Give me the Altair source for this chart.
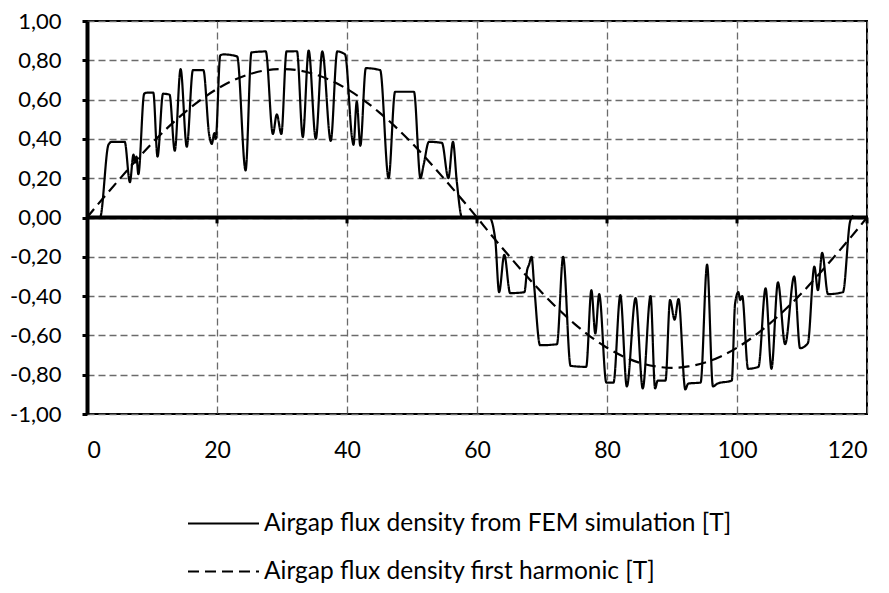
import altair as alt
import pandas as pd

S1 = "Airgap flux density from FEM simulation [T]"
S2 = "Airgap flux density first harmonic [T]"

fem_x = [0, 2.0, 3.3, 3.8, 5.8, 6.6, 7.15, 7.4, 7.6, 7.9, 8.8, 9.2, 10.2, 10.85, 11.7, 12.7,
         13.5, 14.4, 15.35, 16.3, 17.9, 18.8, 19.2, 19.6, 19.8, 20.5, 21.0, 23.1, 24.4, 25.3,
         27.5, 28.6, 29.2, 29.9, 30.7, 32.3, 33.2, 34.1, 35.2, 36.2, 37.5, 38.5, 39.7, 40.8,
         41.0, 41.5, 42.05, 42.9, 45.1, 46.4, 47.4, 50.3, 51.3, 51.8, 52.6, 54.6, 55.6, 56.3,
         56.9, 57.7, 61.9, 62.8, 63.4, 64.2, 65.1, 67.3, 67.7, 68.0, 68.4, 68.8, 69.7, 72.3,
         73.25, 74.4, 76.8, 77.6, 78.2, 78.8, 79.9, 81.0, 82.05, 83.05, 84.4, 85.5, 86.7, 87.4,
         87.8, 89.0, 89.7, 90.4, 91.0, 92.05, 92.5, 94.4, 95.4, 96.3, 97.0, 99.2, 99.7, 100.2,
         100.5, 100.8, 101.7, 103.3, 104.4, 105.3, 106.3, 107.4, 108.8, 109.7, 110.9, 111.9,
         112.45, 113.1, 114.0, 116.3, 117.4, 117.9]
fem_y = [0, 0.0, 0.37, 0.385, 0.385, 0.18, 0.32, 0.28, 0.31, 0.22, 0.63, 0.635, 0.635, 0.31, 0.63, 0.625,
         0.34, 0.755, 0.36, 0.75, 0.75, 0.42, 0.375, 0.43, 0.40, 0.825, 0.83, 0.82, 0.24, 0.84,
         0.845, 0.425, 0.525, 0.425, 0.845, 0.846, 0.41, 0.85, 0.40, 0.845, 0.39, 0.845, 0.83, 0.40,
         0.37, 0.59, 0.365, 0.76, 0.75, 0.20, 0.64, 0.64, 0.20, 0.27, 0.385, 0.38, 0.20, 0.385,
         0.18, 0.0, 0.0, -0.11, -0.38, -0.19, -0.385, -0.38, -0.27, -0.24, -0.20, -0.35, -0.65, -0.645,
         -0.20, -0.755, -0.76, -0.37, -0.59, -0.39, -0.84, -0.84, -0.395, -0.86, -0.41, -0.87, -0.40, -0.87,
         -0.83, -0.83, -0.42, -0.52, -0.415, -0.875, -0.845, -0.84, -0.24, -0.86, -0.845, -0.83, -0.44, -0.38,
         -0.42, -0.40, -0.77, -0.76, -0.36, -0.77, -0.33, -0.645, -0.30, -0.665, -0.64, -0.25,
         -0.37, -0.18, -0.39, -0.38, -0.02, 0.01]

harm_x = [0, 2.5, 5, 7.5, 10, 12.5, 15, 17.5, 20, 22.5, 25, 27.5, 30, 32.5, 35, 37.5, 40, 42.5,
          45, 47.5, 50, 52.5, 55, 57.5, 60, 62.5, 65, 67.5, 70, 72.5, 75, 77.5, 80, 82.5, 85,
          87.5, 90, 92.5, 95, 97.5, 100, 102.5, 105, 107.5, 110, 112.5, 115, 117.5, 120]
harm_y = [0, 0.099, 0.195, 0.289, 0.378, 0.460, 0.534, 0.599, 0.654, 0.698, 0.729, 0.749, 0.755,
          0.749, 0.729, 0.698, 0.654, 0.599, 0.534, 0.460, 0.378, 0.289, 0.195, 0.099, 0.0,
          -0.101, -0.198, -0.293, -0.383, -0.466, -0.541, -0.607, -0.663, -0.707, -0.739, -0.758,
          -0.765, -0.758, -0.739, -0.707, -0.663, -0.607, -0.541, -0.466, -0.383, -0.293, -0.198,
          -0.101, 0.0]

x_ticks = [0, 20, 40, 60, 80, 100, 120]
y_ticks = [-1.0, -0.8, -0.6, -0.4, -0.2, 0.0, 0.2, 0.4, 0.6, 0.8, 1.0]
stub_x = [20, 40, 60, 80, 100, 120]

df = pd.concat([
    pd.DataFrame({"x": fem_x, "y": fem_y, "series": S1, "order": range(len(fem_x))}),
    pd.DataFrame({"x": harm_x, "y": harm_y, "series": S2, "order": range(len(harm_x))}),
])

FONT = "Lato"
GRID = "#6b6b6b"

xscale = alt.Scale(domain=[0, 120], nice=False, zero=False)
yscale = alt.Scale(domain=[-1, 1], nice=False)

xaxis = alt.Axis(
    values=x_ticks, title=None, grid=True, gridDash=[7, 4], gridColor=GRID, gridWidth=1.3,
    domain=False, ticks=False, tickSize=0, labelFont=FONT, labelFontSize=23,
    labelColor="black", labelPadding=25, labelOverlap=False)
yaxis = alt.Axis(
    values=y_ticks, title=None, grid=True, gridDash=[7, 4], gridColor=GRID, gridWidth=1.3,
    domain=True, domainColor="black", domainWidth=4, ticks=True, tickSize=5, tickWidth=3,
    tickColor="black", labelFont=FONT, labelFontSize=22, labelColor="black", labelPadding=21,
    labelOverlap=False, labelSeparation=0,
    labelExpr="replace(replace(format(datum.value, '.2f'), '.', ','), '\u2212', '-')")

lines = alt.Chart(df).mark_line(color="black", strokeWidth=2.2, interpolate="monotone",
                                strokeJoin="round").encode(
    x=alt.X("x:Q", scale=xscale, axis=xaxis),
    y=alt.Y("y:Q", scale=yscale, axis=yaxis),
    strokeDash=alt.StrokeDash("series:N", scale=alt.Scale(domain=[S1, S2], range=[[1, 0], [11, 6]]),
                              legend=alt.Legend(
                                  title=None, orient="none", legendX=100, legendY=466,
                                  symbolType="stroke", symbolSize=5041, symbolStrokeWidth=2,
                                  symbolStrokeColor="black", labelFont=FONT, labelFontSize=24.5,
                                  labelColor="black", labelOffset=4, rowPadding=-23,
                                  labelLimit=0, direction="vertical", padding=0)),
    order="order:Q",
)

zero = alt.Chart(pd.DataFrame({"y": [0]})).mark_rule(color="black", strokeWidth=4).encode(
    y=alt.Y("y:Q", scale=yscale, axis=yaxis))

stubs = alt.Chart(pd.DataFrame({"x": stub_x, "y0": 0.0, "y1": -0.03})).mark_rule(
    color="black", strokeWidth=3).encode(
    x=alt.X("x:Q", scale=xscale, axis=xaxis),
    y=alt.Y("y0:Q", scale=yscale, axis=yaxis),
    y2="y1:Q")

chart = alt.layer(lines, zero, stubs).properties(
    width=780, height=393,
    autosize=alt.AutoSizeParams(type="none"),
    padding={"left": 79, "top": 13, "right": 12, "bottom": 179},
).configure(background="white", view=alt.ViewConfig(stroke="black", strokeWidth=2))

chart.save("out.html", embed_options={"renderer": "svg", "actions": False})
